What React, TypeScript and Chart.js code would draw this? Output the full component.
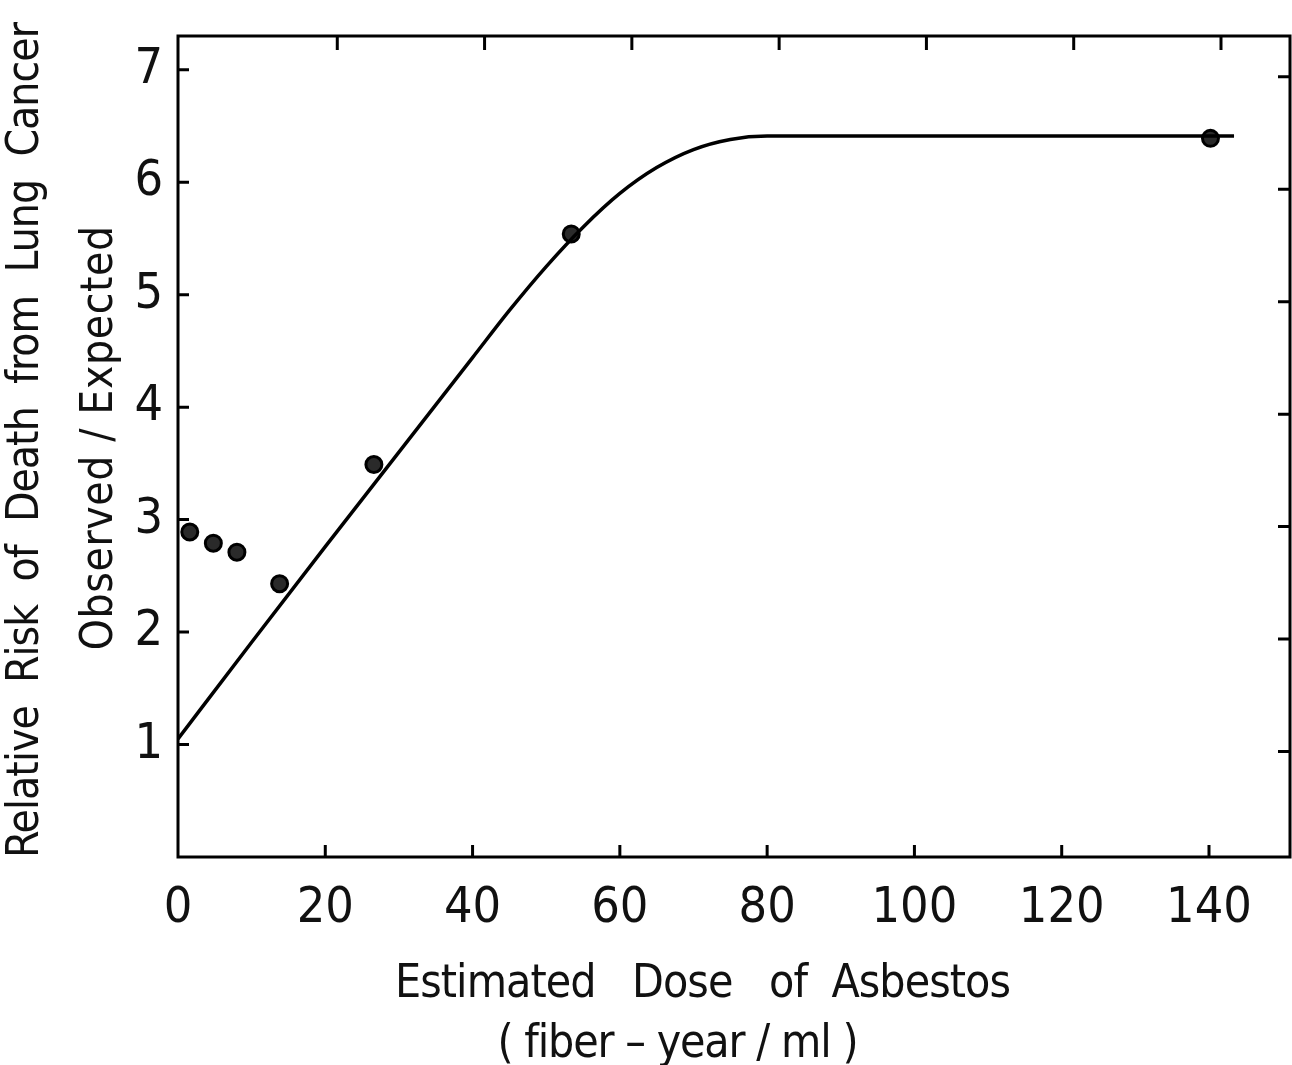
import React, { useEffect, useRef } from "react";
import { Chart, registerables } from "chart.js";

Chart.register(...registerables);

// Observed relative risk (observed / expected) at estimated cumulative doses
const OBS_DOSE = [1.6, 4.8, 8.0, 13.8, 26.6, 53.4, 140.2];
const OBS_RISK = [2.89, 2.79, 2.71, 2.43, 3.49, 5.54, 6.39];

// Fitted dose-response curve
const FIT_DOSE = [0, 10, 20, 30, 40, 45, 50, 55, 60, 65, 70, 75, 80, 100, 120, 143.4];
const FIT_RISK = [1.05, 1.91, 2.76, 3.6, 4.44, 4.86, 5.25, 5.6, 5.9, 6.13, 6.29, 6.38, 6.41, 6.41, 6.41, 6.41];

const X_TICKS = [0, 20, 40, 60, 80, 100, 120, 140];
const Y_TICKS = [1, 2, 3, 4, 5, 6, 7];

const Y_TITLE = ["Relative  Risk  of  Death  from  Lung  Cancer", "Observed / Expected"];
const X_TITLE = ["Estimated   Dose   of  Asbestos", "( fiber – year / ml )"];

const FONT = '"Liberation Sans Narrow", "DejaVu Sans Condensed", "Liberation Sans", sans-serif';

function drawFitted(ctx: CanvasRenderingContext2D, text: string, x: number, y: number, width: number) {
  const n = Array.from(text).length;
  (ctx as any).letterSpacing = "0px";
  const w = ctx.measureText(text).width;
  const ls = n > 1 ? (width - w) / n : 0;
  (ctx as any).letterSpacing = ls + "px";
  ctx.fillText(text, x + ls / 2, y);
  (ctx as any).letterSpacing = "0px";
}

const framePlugin = {
  id: "framePlugin",
  afterDraw(chart: any) {
    const { ctx, chartArea } = chart;
    const { left, right, top, bottom } = chartArea;
    const xs = chart.scales.x;
    const ys = chart.scales.y;
    ctx.save();
    ctx.strokeStyle = "#000";
    ctx.lineWidth = 3;
    ctx.strokeRect(left, top, right - left, bottom - top);
    ctx.beginPath();
    X_TICKS.forEach((v) => {
      if (v === 0) return;
      const px = xs.getPixelForValue(v);
      ctx.moveTo(px, bottom);
      ctx.lineTo(px, bottom - 12);
      ctx.moveTo(px + 12, top);
      ctx.lineTo(px + 12, top + 14);
    });
    Y_TICKS.forEach((v) => {
      const py = ys.getPixelForValue(v);
      ctx.moveTo(left, py);
      ctx.lineTo(left + 11, py);
      ctx.moveTo(right, py + 7);
      ctx.lineTo(right - 12, py + 7);
    });
    ctx.stroke();

    ctx.fillStyle = "#111";
    ctx.textAlign = "center";
    ctx.textBaseline = "middle";
    // y title
    ctx.save();
    ctx.translate(27, 440);
    ctx.rotate(-Math.PI / 2);
    ctx.font = `44px ${FONT}`;
    drawFitted(ctx, Y_TITLE[0], 0, 0, 835);
    ctx.restore();
    ctx.save();
    ctx.translate(101, 438);
    ctx.rotate(-Math.PI / 2);
    ctx.font = `44px ${FONT}`;
    drawFitted(ctx, Y_TITLE[1], 0, 0, 425);
    ctx.restore();
    // x title
    ctx.font = `46px ${FONT}`;
    drawFitted(ctx, X_TITLE[0], 703, 985, 615);
    drawFitted(ctx, X_TITLE[1], 678, 1045, 360);
    ctx.restore();
  },
};

export default function App() {
  const ref = useRef<HTMLCanvasElement | null>(null);
  useEffect(() => {
    document.body.style.margin = "0";
    const canvas = ref.current!;
    const chart = new Chart(canvas, {
      type: "scatter",
      data: {
        datasets: [
          {
            type: "line",
            data: FIT_DOSE.map((x, i) => ({ x, y: FIT_RISK[i] })),
            borderColor: "#000",
            borderWidth: 3.5,
            pointRadius: 0,
            tension: 0.4,
            cubicInterpolationMode: "monotone",
            fill: false,
          } as any,
          {
            type: "scatter",
            data: OBS_DOSE.map((x, i) => ({ x, y: OBS_RISK[i] })),
            backgroundColor: "#2a2a2a",
            borderColor: "#000",
            borderWidth: 3,
            pointRadius: 8,
            pointHoverRadius: 8,
          },
        ],
      },
      plugins: [framePlugin],
      options: {
        animation: false,
        responsive: false,
        layout: { autoPadding: false, padding: { top: 36, right: 2, left: 0, bottom: 0 } },
        plugins: { legend: { display: false }, tooltip: { enabled: false } },
        scales: {
          x: {
            type: "linear",
            min: 0,
            max: 151,
            grid: { display: false },
            border: { display: false },
            afterBuildTicks: (s: any) => {
              s.ticks = X_TICKS.map((v) => ({ value: v }));
            },
            afterFit: (s: any) => {
              s.height = 1065 - 857;
              s.paddingRight = 0;
              s.paddingLeft = 0;
            },
            ticks: {
              padding: 14,
              color: "#111",
              font: { family: FONT, size: 50 },
              maxRotation: 0,
              autoSkip: false,
            },
          },
          y: {
            type: "linear",
            min: 0,
            max: 7.3,
            grid: { display: false },
            border: { display: false },
            afterBuildTicks: (s: any) => {
              s.ticks = Y_TICKS.map((v) => ({ value: v }));
            },
            afterFit: (s: any) => {
              s.width = 178;
              s.paddingTop = 0;
              s.paddingBottom = 0;
            },
            ticks: {
              padding: 7,
              color: "#111",
              font: { family: FONT, size: 50 },
              autoSkip: false,
            },
          },
        },
      },
    });
    return () => chart.destroy();
  }, []);
  return (
    <div style={{ position: "absolute", left: 0, top: 0, width: 1292, height: 1065, background: "#fff" }}>
      <canvas ref={ref} width={1292} height={1065} style={{ display: "block" }} />
    </div>
  );
}
